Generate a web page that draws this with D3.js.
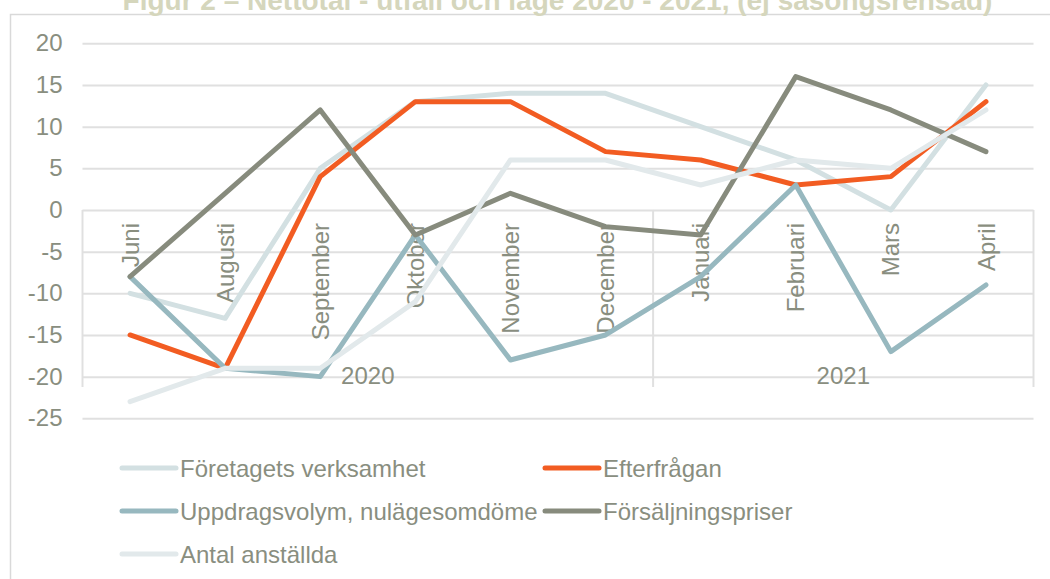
<!DOCTYPE html>
<html>
<head>
<meta charset="utf-8">
<script src="https://cdn.jsdelivr.net/npm/d3@7"></script>
<style>
  html, body { margin: 0; padding: 0; background: #ffffff; }
  svg { display: block; }
  text { font-family: "Liberation Sans", Arial, sans-serif; }
</style>
</head>
<body>
<svg id="chart" width="1050" height="579"></svg>
<script>
// ---- data ----
const title = "Figur 2 – Nettotal - utfall och läge 2020 - 2021, (ej säsongsrensad)";
const categories = ["Juni", "Augusti", "September", "Oktober", "November", "December", "Januari", "Februari", "Mars", "April"];
const yearLabels = ["2020", "2021"];
const yearSpans = [6, 4];
const yTicks = [20, 15, 10, 5, 0, -5, -10, -15, -20, -25];

const seriesNames = ["Företagets verksamhet", "Efterfrågan", "Uppdragsvolym, nulägesomdöme", "Försäljningspriser", "Antal anställda"];
const foretagetsVerksamhet = [-10, -13, 5, 13, 14, 14, 10, 6, 0, 15];
const efterfragan          = [-15, -19, 4, 13, 13, 7, 6, 3, 4, 13];
const uppdragsvolym        = [-8, -19, -20, -3, -18, -15, -8, 3, -17, -9];
const forsaljningspriser   = [-8, 2, 12, -3, 2, -2, -3, 16, 12, 7];
const antalAnstallda       = [-23, -19, -19, -11, 6, 6, 3, 6, 5, 12];
const seriesColors = ["#d3e0e2", "#f25c22", "#97b8bf", "#878b7d", "#e2e9eb"];

const seriesValues = [foretagetsVerksamhet, efterfragan, uppdragsvolym, forsaljningspriser, antalAnstallda];

// ---- layout ----
const svg = d3.select("#chart");
const textColor = "#898e7f";
const gridColor = "#e0e0e0";
const fontSize = 24;

// outer chart border
svg.append("rect")
  .attr("x", 10.5).attr("y", 14.5)
  .attr("width", 1200).attr("height", 700)
  .attr("fill", "none").attr("stroke", "#d9d9d9").attr("stroke-width", 1.5);

// title (partially cut off at the top, as in the reference)
svg.append("text")
  .attr("x", 557.5).attr("y", 10)
  .attr("text-anchor", "middle")
  .attr("font-size", 28).attr("font-weight", "bold")
  .attr("fill", "#d5d6bc")
  .text(title);

const x = d3.scaleBand().domain(categories).range([82.5, 1033.5]).padding(0);
const y = d3.scaleLinear().domain([-25, 20]).range([418.3, 43.3]);

// gridlines
const grid = svg.append("g").attr("transform", "translate(82.5,0)")
  .call(d3.axisLeft(y).tickValues(yTicks).tickSize(-951).tickFormat(""));
grid.select(".domain").remove();
grid.selectAll(".tick line").attr("stroke", gridColor).attr("stroke-width", 2);

// y axis labels
const yAxis = svg.append("g").attr("transform", "translate(82.5,0)")
  .call(d3.axisLeft(y).tickValues(yTicks).tickSize(0).tickPadding(20).tickFormat(d => String(d)));
yAxis.select(".domain").remove();
yAxis.selectAll("text")
  .attr("font-size", fontSize).attr("fill", textColor)
  .style("font-family", '"Liberation Sans", Arial, sans-serif');

// category axis at y = 0
const y0 = y(0);
const xAxis = svg.append("g").attr("transform", `translate(0,${y0})`)
  .call(d3.axisBottom(x).tickSize(0));
xAxis.select(".domain").remove();
xAxis.selectAll("text")
  .attr("transform", "rotate(-90)")
  .attr("x", -13).attr("y", 0).attr("dy", "0.36em")
  .attr("text-anchor", "end")
  .attr("font-size", fontSize).attr("fill", textColor)
  .style("font-family", '"Liberation Sans", Arial, sans-serif');

// year group separators + labels
let idx = 0;
const boundaries = [x.range()[0]];
yearLabels.forEach((lab, i) => {
  const startX = x(categories[idx]);
  idx += yearSpans[i];
  const endX = idx < categories.length ? x(categories[idx]) : x.range()[1];
  boundaries.push(endX);
  svg.append("text")
    .attr("x", (startX + endX) / 2).attr("y", 384)
    .attr("text-anchor", "middle")
    .attr("font-size", fontSize).attr("fill", textColor)
    .text(lab);
});
svg.selectAll(".sep").data(boundaries).enter().append("line")
  .attr("class", "sep")
  .attr("x1", d => d).attr("x2", d => d)
  .attr("y1", y0).attr("y2", 387)
  .attr("stroke", gridColor).attr("stroke-width", 2);

// series lines
const line = d3.line()
  .x((d, i) => x(categories[i]) + x.bandwidth() / 2)
  .y(d => y(d));

svg.selectAll(".series").data(seriesValues).enter().append("path")
  .attr("class", "series")
  .attr("d", d => line(d))
  .attr("fill", "none")
  .attr("stroke", (d, i) => seriesColors[i])
  .attr("stroke-width", 5)
  .attr("stroke-linecap", "round")
  .attr("stroke-linejoin", "round");

// legend
const legendPos = [
  { lx: 122, ly: 468 }, { lx: 545, ly: 468 },
  { lx: 122, ly: 511 }, { lx: 545, ly: 511 },
  { lx: 122, ly: 554 }
];
const lg = svg.append("g");
seriesNames.forEach((name, i) => {
  const p = legendPos[i];
  lg.append("line")
    .attr("x1", p.lx).attr("x2", p.lx + 54)
    .attr("y1", p.ly).attr("y2", p.ly)
    .attr("stroke", seriesColors[i]).attr("stroke-width", 5)
    .attr("stroke-linecap", "round");
  lg.append("text")
    .attr("x", p.lx + 58).attr("y", p.ly).attr("dy", "0.36em")
    .attr("font-size", fontSize).attr("fill", textColor)
    .text(name);
});
</script>
</body>
</html>
